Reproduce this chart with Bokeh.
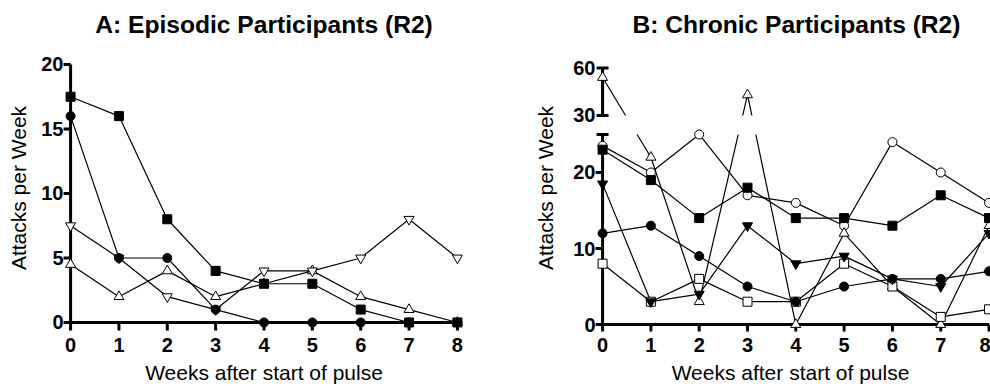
from bokeh.plotting import figure
from bokeh.layouts import row
from bokeh.models import FixedTicker, Range1d
from bokeh.embed import file_html
from bokeh.resources import INLINE

FONT = "Liberation Sans"

weeks = [0, 1, 2, 3, 4, 5, 6, 7, 8]
week_ticks = [0, 1, 2, 3, 4, 5, 6, 7, 8]
x_label = "Weeks after start of pulse"
y_label = "Attacks per Week"

# Panel A - episodic participants
a_title = "A: Episodic Participants (R2)"
a_filled_square = [17.5, 16, 8, 4, 3, 3, 1, 0, 0]
a_filled_circle = [16, 5, 5, 1, 0, 0, 0, 0, 0]
a_open_tri_down = [7.5, 5, 2, 1, 4, 4, 5, 8, 5]
a_open_tri_up = [4.5, 2, 4, 2, 3, 4, 2, 1, 0]
a_yticks = [0, 5, 10, 15, 20]

# Panel B - chronic participants (broken y axis: 0-25 and 30-60)
b_title = "B: Chronic Participants (R2)"
b_open_tri_up = [54, 22, 3, 43, 0, 12, 5, 0, 13]
b_open_circle = [23.5, 20, 25, 17, 16, 13, 24, 20, 16]
b_filled_square = [23, 19, 14, 18, 14, 14, 13, 17, 14]
b_filled_tri_down = [18.5, 3, 4, 13, 8, 9, 6, 5, 12]
b_filled_circle = [12, 13, 9, 5, 3, 5, 6, 6, 7]
b_open_square = [8, 3, 6, 3, 3, 8, 5, 1, 2]
b_lower_ticks = [0, 10, 20]
b_upper_ticks = [30, 60]
b_lower_top = 25
b_upper_bottom, b_upper_top = 30, 60

# broken-axis scale: lower segment 1:1, gap, compressed upper segment
GAP = 2.5
UPPER_SCALE = 6.25 / 30


def broken(v):
    if v <= b_lower_top:
        return v
    return b_lower_top + GAP + (v - b_upper_bottom) * UPPER_SCALE


TICK_PX_Y = 7   # length of y ticks (px)
TICK_PX_X = 8   # length of x ticks (px)


def base_fig(x_end, y_start, y_end, min_left, min_right, min_bottom):
    p = figure(width=495, height=386,
               x_range=Range1d(-0.25, x_end), y_range=Range1d(y_start, y_end),
               output_backend="svg", toolbar_location=None,
               min_border_left=min_left, min_border_right=min_right,
               min_border_top=44, min_border_bottom=min_bottom)
    p.grid.visible = False
    p.outline_line_color = None
    p.background_fill_color = "white"
    p.border_fill_color = "white"
    for ax in (p.xaxis[0], p.yaxis[0]):
        ax.axis_line_color = None
        ax.major_tick_line_color = None
        ax.major_tick_out = 0
        ax.major_tick_in = 0
        ax.minor_tick_line_color = None
        ax.major_label_text_font = FONT
        ax.major_label_text_font_size = "20px"
        ax.major_label_text_font_style = "bold"
        ax.major_label_text_color = "black"
        ax.major_label_text_line_height = 1.0
        ax.axis_label_text_font = FONT
        ax.axis_label_text_font_size = "21px"
        ax.axis_label_text_font_style = "normal"
        ax.axis_label_text_color = "black"
        ax.axis_label_text_line_height = 1.0
    p.xaxis[0].ticker = FixedTicker(ticks=week_ticks)
    p.xaxis[0].axis_label = x_label
    p.xaxis[0].major_label_standoff = 6
    p.xaxis[0].axis_label_standoff = 6
    p.yaxis[0].axis_label = y_label
    p.yaxis[0].major_label_standoff = -5
    p.title.text_font = FONT
    p.title.text_font_size = "24.6px"
    p.title.text_font_style = "bold"
    p.title.text_color = "black"
    p.title.standoff = 13
    return p


def px_to_x(p, px):
    r = p.x_range
    return px * (r.end - r.start) / (p.width - p.min_border_left - p.min_border_right)


def px_to_y(p, px):
    r = p.y_range
    return px * (r.end - r.start) / (p.height - p.min_border_top - p.min_border_bottom)


def draw_axes(p, yticks, y_top):
    tx = px_to_x(p, TICK_PX_Y)
    ty = px_to_y(p, TICK_PX_X)
    p.segment(x0=[-0.03, weeks[0]], y0=[0, 0], x1=[weeks[-1], weeks[0]], y1=[0, y_top],
              line_color="black", line_width=3)
    p.segment(x0=[-tx] * len(yticks), y0=yticks, x1=[0] * len(yticks), y1=yticks,
              line_color="black", line_width=3)
    p.segment(x0=week_ticks, y0=[0] * len(week_ticks), x1=week_ticks, y1=[-ty] * len(week_ticks),
              line_color="black", line_width=3)


def draw_series(p, series, axis_fn):
    for vals, _, _, _ in series:
        p.line(weeks, vals, line_color="black", line_width=1.2)
    axis_fn()
    for vals, marker, fill, size in series:
        p.scatter(weeks, vals, marker=marker, size=size, fill_color=fill,
                  line_color="black", line_width=1)


# ---------- Panel A ----------
pA = base_fig(8.25, -0.70, 21.55, 58, 26, 55)
pA.title.text = a_title
pA.title.align = "center"
pA.yaxis[0].ticker = FixedTicker(ticks=a_yticks)
pA.yaxis[0].axis_label_standoff = 8

# open markers first so filled markers sit on top
series_a = [
    (a_open_tri_up, "triangle", "white", 10),
    (a_open_tri_down, "inverted_triangle", "white", 10),
    (a_filled_circle, "circle", "black", 9),
    (a_filled_square, "square", "black", 9),
]

draw_series(pA, series_a, lambda: draw_axes(pA, a_yticks, a_yticks[-1]))

# ---------- Panel B ----------
pB = base_fig(8.03, -0.92, 36.84, 95, 0, 55)
pB.title.text = b_title
pB.title.align = "left"
pB.title.offset = 42
t_upper = [broken(v) for v in b_upper_ticks]
pB.yaxis[0].ticker = FixedTicker(ticks=b_lower_ticks + t_upper)
pB.yaxis[0].major_label_overrides = {t: str(v) for t, v in zip(t_upper, b_upper_ticks)}
pB.yaxis[0].axis_label_standoff = 13

series_b = [
    ([broken(v) for v in b_open_circle], "circle", "white", 9),
    ([broken(v) for v in b_open_tri_up], "triangle", "white", 10),
    ([broken(v) for v in b_open_square], "square", "white", 9),
    ([broken(v) for v in b_filled_tri_down], "inverted_triangle", "black", 10),
    ([broken(v) for v in b_filled_circle], "circle", "black", 9),
    ([broken(v) for v in b_filled_square], "square", "black", 9),
]


def axes_b():
    lo, up0, up1 = broken(b_lower_top), broken(b_upper_bottom), broken(b_upper_top)
    # blank the gap between the two axis segments
    pB.quad(left=[-0.06], right=[8.5], bottom=[lo], top=[up0],
            fill_color="white", line_color=None)
    draw_axes(pB, b_lower_ticks, lo)
    pB.segment(x0=[0], y0=[up0], x1=[0], y1=[up1], line_color="black", line_width=3)
    cap = px_to_x(pB, 6)
    pB.segment(x0=[-cap] * 3, y0=[lo, up0, up1], x1=[cap] * 3, y1=[lo, up0, up1],
               line_color="black", line_width=3)


draw_series(pB, series_b, axes_b)

layout = row(pA, pB)
open("out.html", "w").write(file_html(layout, INLINE))
